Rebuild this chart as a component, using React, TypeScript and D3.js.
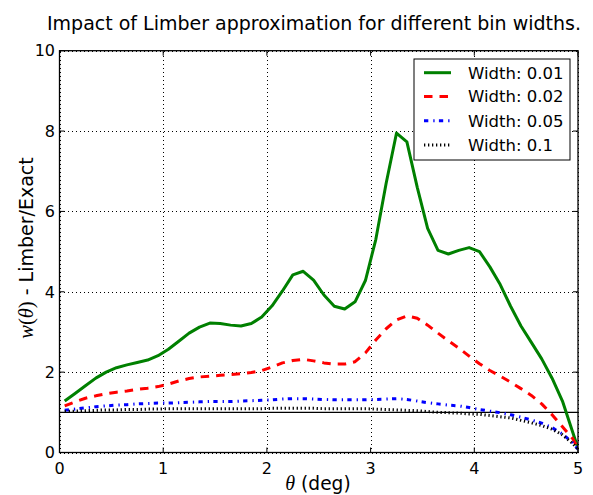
import React from 'react';
import * as d3 from 'd3';

const theta = [0.05, 0.15, 0.25, 0.35, 0.45, 0.55, 0.65, 0.75, 0.85, 0.95,
  1.05, 1.15, 1.25, 1.35, 1.45, 1.55, 1.65, 1.75, 1.85, 1.95,
  2.05, 2.15, 2.25, 2.35, 2.45, 2.55, 2.65, 2.75, 2.85, 2.95,
  3.05, 3.15, 3.25, 3.35, 3.45, 3.55, 3.65, 3.75, 3.85, 3.95,
  4.05, 4.15, 4.25, 4.35, 4.45, 4.55, 4.65, 4.75, 4.85, 4.95, 5.0];

const width001 = [1.28, 1.47, 1.66, 1.85, 2.0, 2.11, 2.18, 2.24, 2.3, 2.41,
  2.57, 2.77, 2.97, 3.12, 3.22, 3.21, 3.17, 3.15, 3.21, 3.37,
  3.65, 4.02, 4.42, 4.51, 4.29, 3.92, 3.64, 3.57, 3.75, 4.28,
  5.3, 6.7, 7.95, 7.73, 6.6, 5.58, 5.03, 4.94, 5.03, 5.1,
  5.0, 4.62, 4.18, 3.64, 3.15, 2.74, 2.33, 1.85, 1.28, 0.5, 0.1];

const width002 = [1.16, 1.26, 1.35, 1.41, 1.46, 1.5, 1.53, 1.57, 1.6, 1.64,
  1.7, 1.78, 1.84, 1.88, 1.9, 1.92, 1.94, 1.96, 1.99, 2.04,
  2.13, 2.23, 2.29, 2.32, 2.28, 2.23, 2.2, 2.2, 2.26, 2.48,
  2.8, 3.08, 3.3, 3.4, 3.34, 3.17, 2.97, 2.78, 2.6, 2.4,
  2.21, 2.04, 1.9, 1.75, 1.59, 1.42, 1.21, 0.94, 0.64, 0.34, 0.1];

const width005 = [1.05, 1.08, 1.11, 1.14, 1.16, 1.18, 1.19, 1.21, 1.22, 1.23,
  1.23, 1.24, 1.25, 1.26, 1.27, 1.27, 1.27, 1.28, 1.29, 1.3,
  1.31, 1.33, 1.34, 1.34, 1.33, 1.32, 1.31, 1.31, 1.31, 1.31,
  1.32, 1.33, 1.34, 1.32, 1.28, 1.24, 1.21, 1.18, 1.16, 1.12,
  1.07, 1.03, 0.99, 0.94, 0.88, 0.81, 0.73, 0.62, 0.46, 0.24, 0.08];

const width01 = [1.02, 1.03, 1.04, 1.05, 1.06, 1.06, 1.07, 1.07, 1.08, 1.08,
  1.09, 1.09, 1.09, 1.09, 1.09, 1.09, 1.09, 1.09, 1.09, 1.09,
  1.1, 1.1, 1.1, 1.1, 1.1, 1.09, 1.09, 1.09, 1.09, 1.09,
  1.08, 1.07, 1.06, 1.05, 1.04, 1.02, 1.0, 0.99, 0.98, 0.96,
  0.95, 0.92, 0.89, 0.86, 0.8, 0.74, 0.67, 0.58, 0.44, 0.22, 0.08];

const seriesLabels = ['Width: 0.01', 'Width: 0.02', 'Width: 0.05', 'Width: 0.1'];
const seriesColors = ['#008000', '#ff0000', '#0000ff', '#000000'];
const seriesDash = ['none', '8.5,7', '4.3,5,1.3,4.3', '1.3,2.7'];
const seriesValues = [width001, width002, width005, width01];

const xTicks = [0, 1, 2, 3, 4, 5];
const yTicks = [0, 2, 4, 6, 8, 10];

const W = 593;
const H = 495;
const X0 = 59.5;
const X1 = 578;
const Y0 = 452.5;
const Y1 = 50.7;

const SANS = 'DejaVu Sans, sans-serif';
const SERIF = 'Liberation Serif, DejaVu Serif, serif';

export default function App() {
  const x = d3.scaleLinear().domain([0, 5]).range([X0, X1]);
  const y = d3.scaleLinear().domain([0, 10]).range([Y0, Y1]);
  const line = d3.line<[number, number]>().x(d => x(d[0])).y(d => y(d[1]));

  const legendX = 414, legendY = 59, legendW = 156, legendH = 101;
  const rowY = [72.7, 96.5, 120.7, 145];

  return (
    <svg width={W} height={H} style={{ position: 'absolute', left: 0, top: 0, background: '#fff' }}>
      <rect x={0} y={0} width={W} height={H} fill="#fff" />
      <defs>
        <clipPath id="plotclip">
          <rect x={X0} y={Y1} width={X1 - X0} height={Y0 - Y1} />
        </clipPath>
      </defs>
      {/* title */}
      <text x={314} y={30} textAnchor="middle" fontFamily={SANS} fontSize={19} fill="#000">
        Impact of Limber approximation for different bin widths.
      </text>
      {/* grid */}
      {xTicks.map(t => (
        <line key={'gx' + t} x1={Math.round(x(t)) + 0.5} x2={Math.round(x(t)) + 0.5} y1={Y0} y2={Y1} stroke="#000" strokeWidth={1} strokeDasharray="1,3" shapeRendering="crispEdges" />
      ))}
      {yTicks.map(t => (
        <line key={'gy' + t} x1={X0} x2={X1} y1={Math.round(y(t)) + 0.5} y2={Math.round(y(t)) + 0.5} stroke="#000" strokeWidth={1} strokeDasharray="1,3" shapeRendering="crispEdges" />
      ))}
      {/* horizontal reference at 1 */}
      <line x1={X0} x2={X1} y1={y(1)} y2={y(1)} stroke="#000" strokeWidth={1.2} />
      {/* series */}
      <g clipPath="url(#plotclip)">
        {seriesValues.map((vals, i) => (
          <path key={'s' + i}
            d={line(theta.map((t, j) => [t, vals[j]] as [number, number])) || ''}
            fill="none" stroke={seriesColors[i]} strokeWidth={3}
            strokeDasharray={seriesDash[i]} strokeLinejoin="round" />
        ))}
      </g>
      {/* frame */}
      <rect x={X0} y={Y1} width={X1 - X0} height={Y0 - Y1} fill="none" stroke="#000" strokeWidth={1.3} />
      {/* ticks */}
      {xTicks.map(t => (
        <g key={'tx' + t}>
          <line x1={x(t)} x2={x(t)} y1={Y0} y2={Y0 - 5} stroke="#000" strokeWidth={1} />
          <line x1={x(t)} x2={x(t)} y1={Y1} y2={Y1 + 5} stroke="#000" strokeWidth={1} />
          <text x={x(t)} y={474} textAnchor="middle" fontFamily={SANS} fontSize={16} fill="#000">{t}</text>
        </g>
      ))}
      {yTicks.map(t => (
        <g key={'ty' + t}>
          <line x1={X0} x2={X0 + 5} y1={y(t)} y2={y(t)} stroke="#000" strokeWidth={1} />
          <line x1={X1} x2={X1 - 5} y1={y(t)} y2={y(t)} stroke="#000" strokeWidth={1} />
          <text x={55} y={y(t)} dy="0.36em" textAnchor="end" fontFamily={SANS} fontSize={16} fill="#000">{t}</text>
        </g>
      ))}
      {/* axis labels */}
      <text x={318} y={490} textAnchor="middle" fontFamily={SANS} fontSize={18.6} fill="#000">
        <tspan fontFamily={SERIF} fontStyle="italic" fontSize={20}>θ</tspan>
        <tspan> (deg)</tspan>
      </text>
      <text transform={`translate(33,248) rotate(-90)`} textAnchor="middle" fontFamily={SANS} fontSize={19} fill="#000">
        <tspan fontFamily={SERIF} fontStyle="italic" fontSize={20.5}>w</tspan>
        <tspan fontFamily={SERIF} fontSize={20.5}>(</tspan>
        <tspan fontFamily={SERIF} fontStyle="italic" fontSize={20.5}>θ</tspan>
        <tspan fontFamily={SERIF} fontSize={20.5}>)</tspan>
        <tspan> - Limber/Exact</tspan>
      </text>
      {/* legend */}
      <rect x={legendX} y={legendY} width={legendW} height={legendH} fill="#fff" stroke="#000" strokeWidth={1} />
      {seriesLabels.map((lab, i) => (
        <g key={'lg' + i}>
          <line x1={424} x2={451} y1={rowY[i]} y2={rowY[i]} stroke={seriesColors[i]} strokeWidth={3} strokeDasharray={seriesDash[i]} />
          <text x={468} y={rowY[i]} dy="0.36em" fontFamily={SANS} fontSize={16.5} fill="#000">{lab}</text>
        </g>
      ))}
    </svg>
  );
}
